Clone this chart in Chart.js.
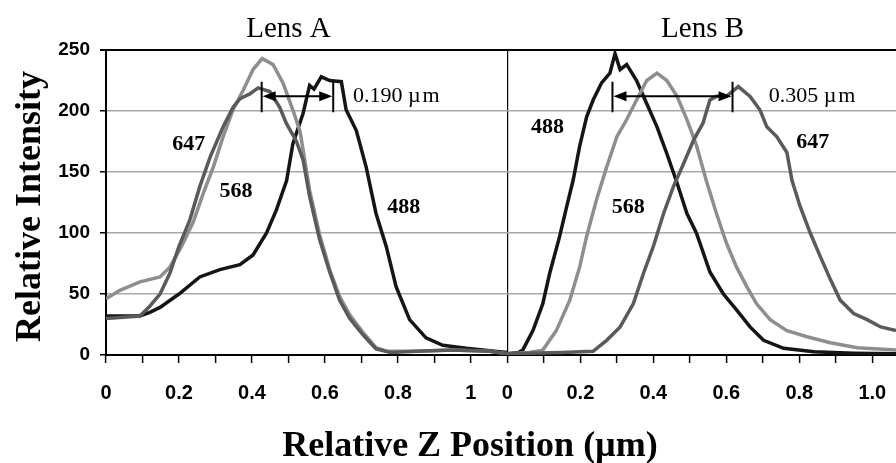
<!DOCTYPE html>
<html>
<head>
<meta charset="utf-8">
<script src="https://cdn.jsdelivr.net/npm/chart.js@4.4.0/dist/chart.umd.min.js"></script>
<style>
  body { margin: 0; background: #fff; }
  #wrap { width: 896px; height: 463px; }
</style>
</head>
<body>
<div id="wrap"><canvas id="lensChart"></canvas></div>
<script>
// Lens B is drawn on the same axis, shifted right by this much
const OFFSET_B = 1.1;

// Lens A (x in um, y relative intensity)
const a488X = [0, 0.05, 0.093, 0.12, 0.148, 0.2, 0.257, 0.312, 0.367, 0.403, 0.44, 0.467, 0.495, 0.512, 0.54, 0.558, 0.57, 0.59, 0.613, 0.645, 0.658, 0.686, 0.713, 0.74, 0.768, 0.795, 0.832, 0.877, 0.923, 0.987, 1.078, 1.1];
const a488Y = [32, 32, 32, 35, 39, 50, 64, 70, 74, 82, 100, 119, 143, 173, 198, 221, 218, 228, 225, 224, 201, 184, 154, 116, 89, 56, 29, 14, 8, 5.5, 2.7, 2];

const a568X = [0, 0.038, 0.093, 0.148, 0.175, 0.207, 0.239, 0.266, 0.294, 0.321, 0.348, 0.376, 0.403, 0.428, 0.458, 0.485, 0.512, 0.532, 0.558, 0.585, 0.613, 0.64, 0.668, 0.703, 0.74, 0.77, 0.85, 0.95, 1.05, 1.1];
const a568Y = [46, 53, 60, 64, 72, 89, 109, 132, 154, 179, 201, 217, 234, 243, 238, 223, 201, 183, 135, 99, 70, 48, 33, 19, 6, 3, 3, 4, 3, 1];

const a647X = [0, 0.093, 0.12, 0.148, 0.175, 0.2, 0.23, 0.257, 0.285, 0.321, 0.348, 0.367, 0.394, 0.417, 0.449, 0.476, 0.494, 0.522, 0.54, 0.558, 0.585, 0.613, 0.64, 0.668, 0.703, 0.74, 0.78, 0.85, 0.95, 1.05, 1.1];
const a647Y = [30, 32, 40, 50, 67, 89, 111, 138, 162, 187, 203, 210, 214, 219, 216, 203, 190, 175, 160, 130, 95, 68, 45, 30, 17, 5, 2, 3, 4, 3, 1];

// Lens B
const b488X = [0, 0.03, 0.042, 0.07, 0.097, 0.116, 0.143, 0.162, 0.18, 0.198, 0.217, 0.235, 0.258, 0.281, 0.295, 0.309, 0.327, 0.354, 0.382, 0.41, 0.437, 0.465, 0.492, 0.518, 0.555, 0.592, 0.628, 0.665, 0.702, 0.757, 0.84, 0.95, 1.065];
const b488Y = [1, 2, 4, 20, 42, 67, 97, 121, 143, 171, 195, 209, 223, 231, 247, 234, 238, 225, 206, 187, 165, 141, 116, 100, 68, 50, 37, 23, 12, 5.5, 2.7, 1.5, 1];

const b568X = [0, 0.06, 0.097, 0.134, 0.171, 0.198, 0.217, 0.244, 0.272, 0.3, 0.327, 0.354, 0.382, 0.41, 0.437, 0.465, 0.492, 0.518, 0.545, 0.573, 0.6, 0.628, 0.656, 0.683, 0.72, 0.766, 0.821, 0.885, 0.959, 1.065];
const b568Y = [1, 2, 4, 20, 45, 72, 97, 127, 154, 179, 193, 209, 225, 231, 225, 212, 193, 172, 143, 116, 92, 72, 56, 42, 29, 20, 15, 10, 6, 4];

const b647X = [0, 0.15, 0.235, 0.272, 0.309, 0.345, 0.373, 0.4, 0.428, 0.455, 0.483, 0.51, 0.536, 0.555, 0.573, 0.6, 0.633, 0.665, 0.692, 0.711, 0.738, 0.766, 0.78, 0.802, 0.83, 0.857, 0.885, 0.912, 0.949, 0.986, 1.023, 1.065];
const b647Y = [1, 2, 3, 12, 23, 42, 67, 89, 116, 138, 157, 176, 190, 209, 212, 212, 220, 212, 201, 187, 179, 166, 143, 122, 100, 81, 62, 45, 34, 29, 23, 20];

const yTicks = [0, 50, 100, 150, 200, 250];
const panelTitles = ["Lens A", "Lens B"];

// curve labels: [text, x, y, panel]
const curveLabels = [
  ["647", 0.227, 173, 0],
  ["568", 0.356, 134, 0],
  ["488", 0.816, 121, 0],
  ["488", 0.11, 187, 1],
  ["568", 0.331, 121, 1],
  ["647", 0.837, 174, 1],
];

// width markers: [x1, x2, text, text x, panel]
const widthMarks = [
  [0.4266, 0.6227, "0.190 \u00b5\u200am", 0.677, 0],
  [0.288, 0.617, "0.305 \u00b5\u200am", 0.716, 1],
];

const SERIF = "'Liberation Serif', 'Times New Roman', serif";
const SANS = "'Liberation Sans', Arial, sans-serif";

function toPoints(xs, ys, shift) {
  return xs.map((x, i) => ({ x: x + shift, y: ys[i] }));
}

function curve(label, xs, ys, shift, color) {
  return {
    label: label,
    data: toPoints(xs, ys, shift),
    borderColor: color,
    borderWidth: 3.5,
    pointRadius: 0,
    tension: 0,
    fill: false,
  };
}

const isDivider = (v) => Math.abs(v - OFFSET_B) < 1e-6;

const annotate = {
  id: "annotate",
  afterDatasetsDraw(chart) {
    const c = chart.ctx;
    const xs = chart.scales.x;
    const ys = chart.scales.y;
    const area = chart.chartArea;
    const px = (x, panel) => xs.getPixelForValue(x + (panel ? OFFSET_B : 0));
    c.save();
    c.fillStyle = "#000";
    c.strokeStyle = "#000";

    // panel titles
    c.font = "29px " + SERIF;
    c.textAlign = "center";
    c.textBaseline = "alphabetic";
    c.fillText(panelTitles[0], px(0.5, 0), 37);
    c.fillText(panelTitles[1], px(0.535, 1), 37);

    // curve labels
    c.font = "bold 22px " + SERIF;
    c.textBaseline = "middle";
    curveLabels.forEach((l) => {
      c.fillText(l[0], px(l[1], l[3]), ys.getPixelForValue(l[2]));
    });

    // width arrows
    c.lineWidth = 2;
    widthMarks.forEach((m) => {
      const x1 = px(m[0], m[4]);
      const x2 = px(m[1], m[4]);
      const yMid = ys.getPixelForValue(212);
      const yTop = ys.getPixelForValue(224);
      const yBot = ys.getPixelForValue(199);
      c.beginPath();
      c.moveTo(x1, yTop); c.lineTo(x1, yBot);
      c.moveTo(x2, yTop); c.lineTo(x2, yBot);
      c.moveTo(x1 + 10, yMid); c.lineTo(x2 - 10, yMid);
      c.stroke();
      c.beginPath();
      c.moveTo(x1 + 1, yMid); c.lineTo(x1 + 14, yMid - 5); c.lineTo(x1 + 14, yMid + 5); c.closePath();
      c.moveTo(x2 - 1, yMid); c.lineTo(x2 - 14, yMid - 5); c.lineTo(x2 - 14, yMid + 5); c.closePath();
      c.fill();
      c.font = "22px " + SERIF;
      c.textAlign = "left";
      c.fillText(m[2], px(m[3], m[4]), yMid);
      c.textAlign = "center";
    });

    // axis titles
    c.font = "bold 36px " + SERIF;
    c.textBaseline = "alphabetic";
    c.fillText("Relative Z Position (\u00b5m)", 470, 456);
    c.translate(40, (area.top + area.bottom) / 2 + 4);
    c.rotate(-Math.PI / 2);
    c.font = "bold 36px " + SERIF;
    c.fillText("Relative Intensity", 0, 0);
    c.restore();
  },
};

new Chart(document.getElementById("lensChart"), {
  type: "line",
  data: {
    datasets: [
      curve("647 A", a647X, a647Y, 0, "#5a5a5a"),
      curve("568 A", a568X, a568Y, 0, "#8e8e8e"),
      curve("488 A", a488X, a488Y, 0, "#151515"),
      curve("647 B", b647X, b647Y, OFFSET_B, "#5a5a5a"),
      curve("568 B", b568X, b568Y, OFFSET_B, "#8e8e8e"),
      curve("488 B", b488X, b488Y, OFFSET_B, "#151515"),
    ],
  },
  options: {
    responsive: true,
    maintainAspectRatio: false,
    animation: false,
    layout: { padding: { top: 50, right: 0, left: 0, bottom: 0 } },
    plugins: {
      legend: { display: false },
      tooltip: { enabled: false },
    },
    scales: {
      x: {
        type: "linear",
        min: 0,
        max: 2.165,
        afterFit(scale) {
          scale.height = 108;
          scale.paddingLeft = 0;
          scale.paddingRight = 0;
        },
        afterBuildTicks(scale) {
          const t = [];
          for (let i = 0; i <= 21; i++) t.push({ value: i / 10 });
          scale.ticks = t;
        },
        border: { display: true, color: "#000", width: 2 },
        grid: {
          drawOnChartArea: true,
          color: (ctx) => (ctx.tick && isDivider(ctx.tick.value) ? "#000" : "rgba(0,0,0,0)"),
          lineWidth: 1.2,
          tickColor: "#000",
          tickLength: 8,
          tickWidth: 1.5,
        },
        ticks: {
          autoSkip: false,
          maxRotation: 0,
          padding: 18,
          color: "#000",
          font: { family: SANS, size: 20, weight: "bold" },
          callback: function (value) {
            const i = Math.round(value * 10);
            const j = i <= 10 ? i : i - 11;
            if (j % 2 !== 0) return "";
            if (j === 0) return "0";
            if (i === 10) return "1";
            return (j / 10).toFixed(1);
          },
        },
      },
      y: {
        min: 0,
        max: 250,
        afterFit(scale) { scale.width = 106; },
        afterBuildTicks(scale) {
          scale.ticks = yTicks.map((v) => ({ value: v }));
        },
        border: { display: true, color: "#000", width: 2 },
        grid: {
          color: (ctx) => (ctx.tick && ctx.tick.value === 250 ? "#000" : "#a8a8a8"),
          lineWidth: (ctx) => (ctx.tick && ctx.tick.value === 250 ? 2 : 1.5),
          tickColor: "#000",
          tickLength: 6,
        },
        ticks: {
          padding: 10,
          color: "#000",
          font: { family: SANS, size: 19, weight: "bold" },
        },
      },
    },
  },
  plugins: [annotate],
});
</script>
</body>
</html>
